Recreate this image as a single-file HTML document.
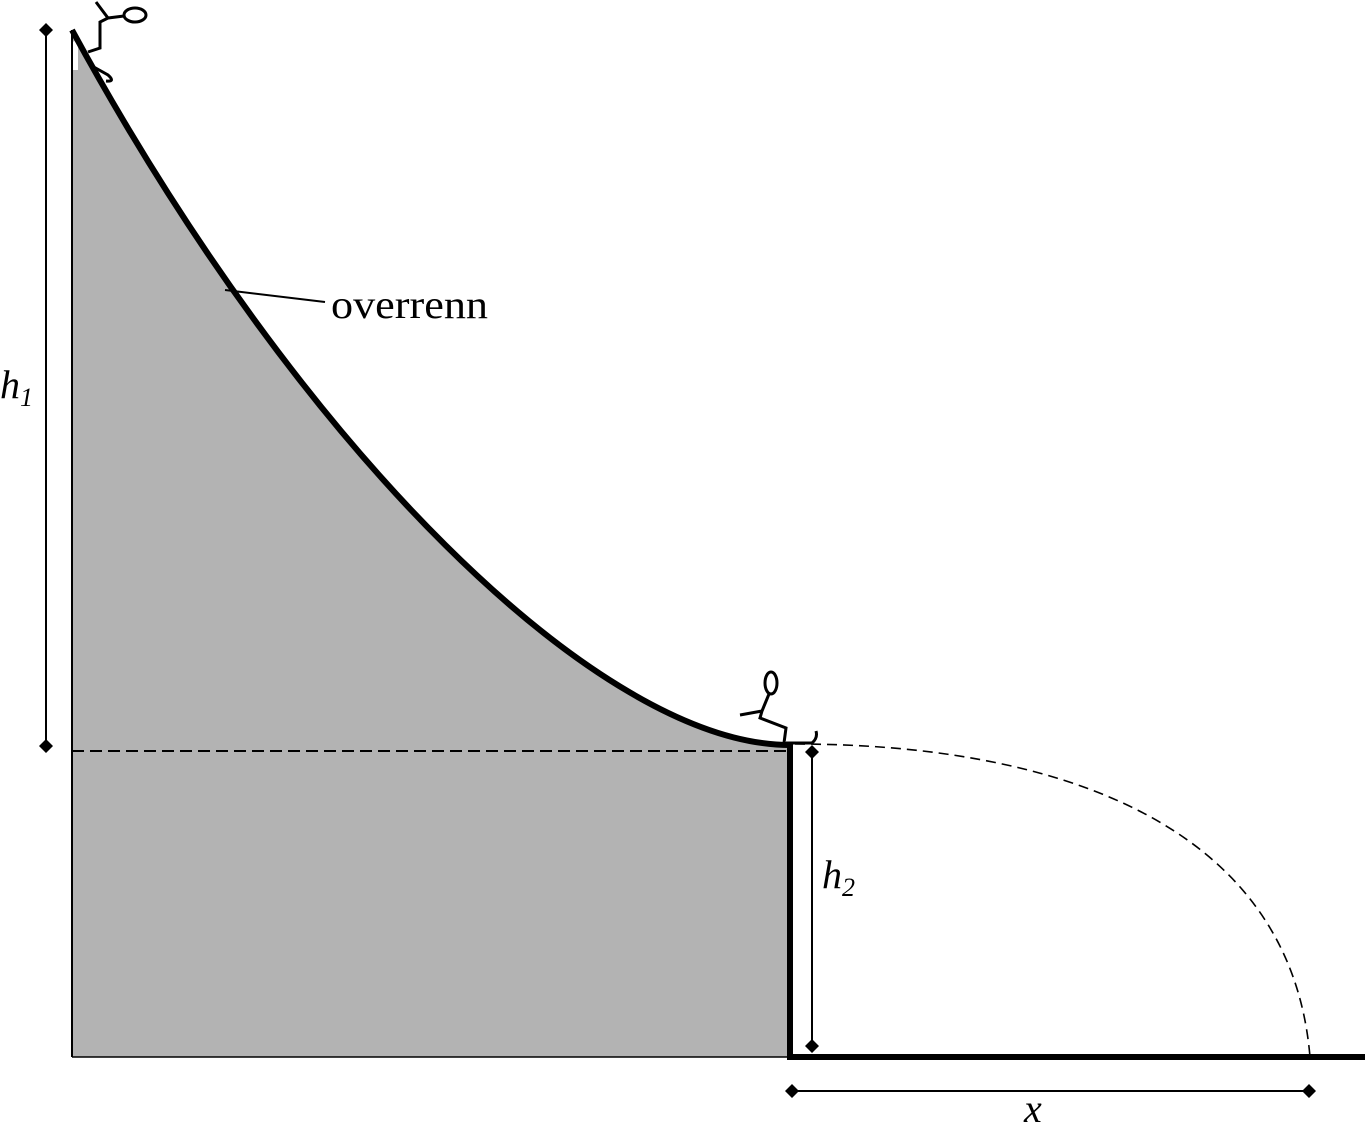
<!DOCTYPE html>
<html><head><meta charset="utf-8"><style>
html,body{margin:0;padding:0;background:#fff;}
svg{display:block;}
text{font-family:"Liberation Serif",serif;}
</style></head><body>
<svg width="1365" height="1126" viewBox="0 0 1365 1126">
  <path d="M72,42 L72,70 L78,70 L78,40 Z M72,30 C300,450 600,745 790,745 L790,1057 L72,1057 Z" fill="#b3b3b3"/>
  <line x1="72" y1="30" x2="72" y2="1057" stroke="#000" stroke-width="2"/>
  <line x1="72" y1="1057" x2="790" y2="1057" stroke="#000" stroke-width="1.5"/>
  <path d="M72,30 C300,450 600,745 790,745" fill="none" stroke="#000" stroke-width="6"/>
  <line x1="790" y1="742" x2="790" y2="1060" stroke="#000" stroke-width="6"/>
  <line x1="787" y1="1057" x2="1365" y2="1057" stroke="#000" stroke-width="6"/>
  <line x1="72" y1="751" x2="788" y2="751" stroke="#000" stroke-width="2" stroke-dasharray="12,6"/>
  <path d="M795,744 C1050,744 1290,820 1310,1057" fill="none" stroke="#000" stroke-width="1.6" stroke-dasharray="10,6"/>
  <g>
    <line x1="46" y1="30" x2="46" y2="746" stroke="#000" stroke-width="2"/>
    <path d="M46,23 L53,30 L46,37 L39,30 Z M46,739 L53,746 L46,753 L39,746 Z" fill="#000"/>
  </g>
  <g>
    <line x1="812" y1="752" x2="812" y2="1046" stroke="#000" stroke-width="2"/>
    <path d="M812,745 L819,752 L812,759 L805,752 Z M812,1039 L819,1046 L812,1053 L805,1046 Z" fill="#000"/>
  </g>
  <g>
    <line x1="792" y1="1091" x2="1309" y2="1091" stroke="#000" stroke-width="2"/>
    <path d="M785,1091 L792,1084 L799,1091 L792,1098 Z M1302,1091 L1309,1084 L1316,1091 L1309,1098 Z" fill="#000"/>
  </g>
  <text x="0" y="398" font-size="40" font-style="italic">h<tspan font-size="26" dy="8">1</tspan></text>
  <text x="822" y="888" font-size="40" font-style="italic">h<tspan font-size="26" dy="8">2</tspan></text>
  <text x="1024" y="1122" font-size="40" font-style="italic">x</text>
  <line x1="225" y1="290" x2="325" y2="302" stroke="#000" stroke-width="2"/>
  <text x="331" y="318" font-size="40" textLength="157" lengthAdjust="spacingAndGlyphs">overrenn</text>
  <g fill="none" stroke="#000" stroke-width="3">
    <ellipse cx="135" cy="15" rx="11" ry="7"/>
    <path d="M124,16 L108,18 L96,2 M108,18 L100,22 L100,48 L88,52 M92,66 L108,75 Q116,82 106,81"/>
  </g>
  <g fill="none" stroke="#000" stroke-width="3">
    <ellipse cx="771" cy="683" rx="6" ry="11"/>
    <path d="M769,694 L762,711 L740,715 M762,711 L760,718 L786,728 L784,743 M786,743 L812,743 Q818,738 816,731"/>
  </g>
</svg>
</body></html>
